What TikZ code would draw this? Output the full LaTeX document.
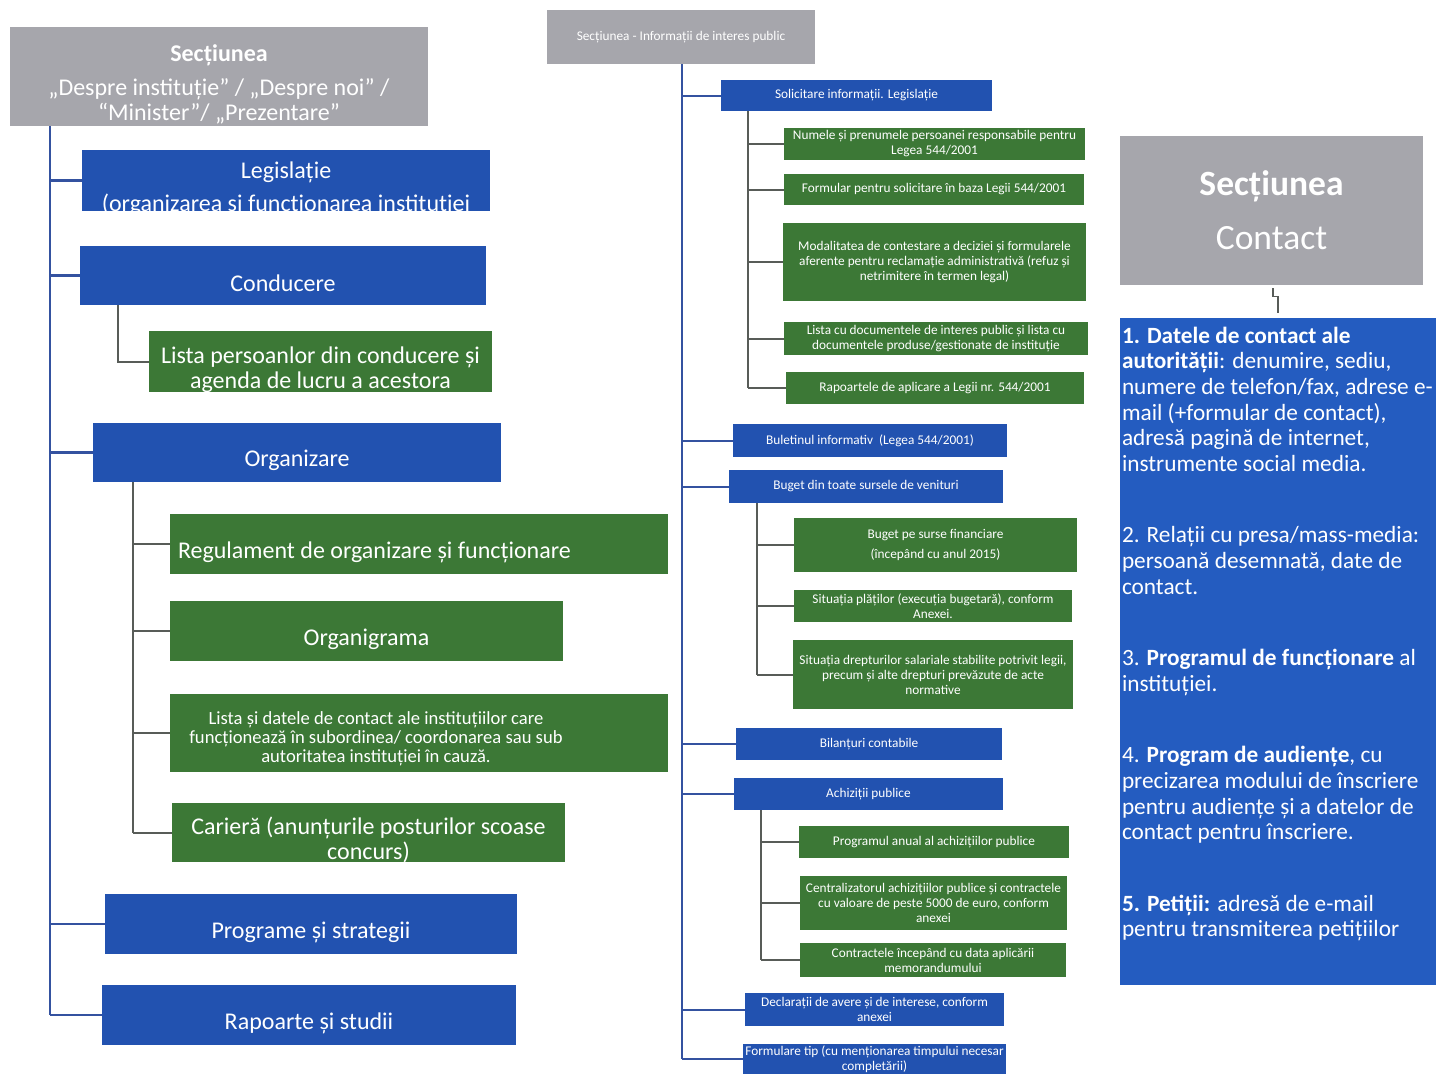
\documentclass[tikz,border=0pt]{standalone}
\usepackage{fontspec}
\setmainfont{Carlito}
\usetikzlibrary{positioning}
\definecolor{headgrey}{RGB}{166,166,172}
\definecolor{secblue}{RGB}{34,82,176}
\definecolor{contactblue}{RGB}{36,92,192}
\definecolor{subgreen}{RGB}{60,120,54}
\definecolor{trunkblue}{RGB}{52,82,160}
\definecolor{branchgrey}{RGB}{88,92,88}
\newcommand{\lowstrut}[1][1.36em]{\rule{0pt}{#1}}

\begin{document}
\begin{tikzpicture}
      [
        x = 1pt, y = -1pt,
        box/.style = {rectangle, text = white, inner sep = 2pt, align = flush center},
        greybox/.style = {box, fill = headgrey},
        bluebox/.style = {box, fill = secblue},
        greenbox/.style = {box, fill = subgreen},
        dims/.style 2 args = {minimum width = #1pt, minimum height = #2pt},
        big/.style = {font = \fontsize{24}{25}\selectfont},
        lowered/.style = {execute at begin node = \lowstrut},
        mid/.style = {font = \fontsize{18.6}{19}\selectfont},
        small/.style = {font = \fontsize{13.3}{15}\selectfont},
        trunk/.style = {draw = trunkblue, line width = 2.5pt},
        branch/.style = {draw = branchgrey, line width = 2pt}
      ]

      \path[fill = white, use as bounding box] (0,0) rectangle (1436,1074);

      \node[greybox, big, dims={418}{99}] (lhead) at (219,76.5)
        {\lowstrut\textbf{Secțiunea}\\[9pt] „Despre instituție” / „Despre noi” /\\ “Minister”/ „Prezentare”};
      \node[bluebox, big, inner ysep = -6pt, dims={408}{61}] (legis) at (286,180.5)
        {\lowstrut[33pt]Legislație\\[8pt] (organizarea și funcționarea instituției};
      \node[bluebox, big, lowered, dims={406}{59}] (cond) at (283,275.5) {Conducere};
      \node[greenbox, big, inner ysep = -2pt, dims={343}{61}] (listacond) at (320.5,361.5)
        {\lowstrut[33pt]Lista persoanlor din conducere și\\ agenda de lucru a acestora};
      \node[bluebox, big, lowered, dims={408}{59}] (org) at (297,452.5) {Organizare};
      \node[greenbox, big, lowered, dims={498}{60}, text width = 482pt, align = flush left] (regul) at (419,544)
        {Regulament de organizare și funcționare};
      \node[greenbox, big, lowered, dims={393}{60}] (organigr) at (366.5,631) {Organigrama};
      \node[greenbox, mid, dims={498}{78}, text width = 490pt, align = flush left] (listainst) at (419,733)
        {\parbox{404pt}{\centering\lowstrut Lista și datele de contact ale instituțiilor care\\
          funcționează în subordinea/ coordonarea sau sub\\ autoritatea instituției în cauză.}};
      \node[greenbox, big, inner ysep = -3pt, dims={393}{59}] (cariera) at (368.5,832.5)
        {\lowstrut[33pt]Carieră (anunțurile posturilor scoase\\ concurs)};
      \node[bluebox, big, lowered, dims={412}{60}] (progr) at (311,924) {Programe și strategii};
      \node[bluebox, big, lowered, dims={414}{60}] (rap) at (309,1015) {Rapoarte și studii};

      \coordinate (ltrunk) at (50,0);
      \coordinate (condsub) at (118,0);
      \coordinate (orgsub) at (133,0);
      \draw[trunk] (lhead.south -| ltrunk) -- (rap.west -| ltrunk);
      \draw[trunk] (legis.west -| ltrunk) -- (legis.west);
      \draw[trunk] (cond.west -| ltrunk) -- (cond.west);
      \draw[trunk] (org.west -| ltrunk) -- (org.west);
      \draw[trunk] (progr.west -| ltrunk) -- (progr.west);
      \draw[trunk] (rap.west -| ltrunk) -- (rap.west);
      \draw[branch] (cond.south -| condsub) |- (listacond.west);
      \draw[branch] (org.south -| orgsub) -- (cariera.west -| orgsub);
      \draw[branch] (regul.west -| orgsub) -- (regul.west);
      \draw[branch] (organigr.west -| orgsub) -- (organigr.west);
      \draw[branch] (listainst.west -| orgsub) -- (listainst.west);
      \draw[branch] (cariera.west -| orgsub) -- (cariera.west);

      \node[greybox, small, dims={268}{54}] (mhead) at (681,37) {Secțiunea - Informații de interes public};
      \node[bluebox, small, dims={271}{31}] (solic) at (856.5,95.5) {Solicitare informații. Legislație};
      \node[greenbox, small, dims={301}{32}] (numele) at (934.5,144)
        {Numele și prenumele persoanei responsabile pentru\\ Legea 544/2001};
      \node[greenbox, small, dims={300}{31}] (formsol) at (934,189.5)
        {Formular pentru solicitare în baza Legii 544/2001};
      \node[greenbox, small, dims={303}{78}] (modal) at (934.5,262)
        {Modalitatea de contestare a deciziei și formularele\\ aferente pentru reclamație administrativă (refuz și\\ netrimitere în termen legal)};
      \node[greenbox, small, dims={304}{33}] (listadoc) at (936,338.5)
        {Lista cu documentele de interes public și lista cu\\ documentele produse/gestionate de instituție};
      \node[greenbox, small, dims={298}{32}] (rapap) at (935,388) {Rapoartele de aplicare a Legii nr. 544/2001};
      \node[bluebox, small, dims={274}{33}] (bulet) at (870,440.5) {Buletinul informativ \ (Legea 544/2001)};
      \node[bluebox, small, dims={274}{33}] (buget) at (866,486.5) {Buget din toate sursele de venituri};
      \node[greenbox, small, dims={283}{54}] (bugsurse) at (935.5,545)
        {Buget pe surse financiare\\[5pt] (începând cu anul 2015)};
      \node[greenbox, small, dims={278}{32}] (sitplati) at (933,606)
        {Situația plăților (execuția bugetară), conform\\ Anexei.};
      \node[greenbox, small, dims={280}{69}] (sitdrept) at (933,674.5)
        {Situația drepturilor salariale stabilite potrivit legii,\\ precum și alte drepturi prevăzute de acte\\ normative};
      \node[bluebox, small, dims={266}{32}] (bilant) at (869,744) {Bilanțuri contabile};
      \node[bluebox, small, dims={269}{32}] (achiz) at (868.5,794) {Achiziții publice};
      \node[greenbox, small, dims={270}{32}] (progach) at (934,842) {Programul anual al achizițiilor publice};
      \node[greenbox, small, dims={267}{54}] (centr) at (933.5,903)
        {Centralizatorul achizițiilor publice și contractele\\ cu valoare de peste 5000 de euro, conform\\ anexei};
      \node[greenbox, small, dims={266}{34}] (contr) at (933,960)
        {Contractele începând cu data aplicării\\ memorandumului};
      \node[bluebox, small, dims={259}{33}] (declar) at (874.5,1009.5)
        {Declarații de avere și de interese, conform\\ anexei};
      \node[bluebox, small, dims={263}{30}] (formtip) at (874.5,1059)
        {Formulare tip (cu menționarea timpului necesar\\ completării)};

      \coordinate (mtrunk) at (682,0);
      \coordinate (solsub) at (748,0);
      \coordinate (bugsub) at (757,0);
      \coordinate (achsub) at (761,0);
      \draw[trunk, line width = 2pt] (mhead.south -| mtrunk) -- (formtip.west -| mtrunk);
      \draw[trunk, line width = 2pt] (solic.west -| mtrunk) -- (solic.west);
      \draw[trunk, line width = 2pt] (bulet.west -| mtrunk) -- (bulet.west);
      \draw[trunk, line width = 2pt] (buget.west -| mtrunk) -- (buget.west);
      \draw[trunk, line width = 2pt] (bilant.west -| mtrunk) -- (bilant.west);
      \draw[trunk, line width = 2pt] (achiz.west -| mtrunk) -- (achiz.west);
      \draw[trunk, line width = 2pt] (declar.west -| mtrunk) -- (declar.west);
      \draw[trunk, line width = 2pt] (formtip.west -| mtrunk) -- (formtip.west);
      \draw[branch] (solic.south -| solsub) -- (rapap.west -| solsub);
      \draw[branch] (numele.west -| solsub) -- (numele.west);
      \draw[branch] (formsol.west -| solsub) -- (formsol.west);
      \draw[branch] (modal.west -| solsub) -- (modal.west);
      \draw[branch] (listadoc.west -| solsub) -- (listadoc.west);
      \draw[branch] (rapap.west -| solsub) -- (rapap.west);
      \draw[branch] (buget.south -| bugsub) -- (sitdrept.west -| bugsub);
      \draw[branch] (bugsurse.west -| bugsub) -- (bugsurse.west);
      \draw[branch] (sitplati.west -| bugsub) -- (sitplati.west);
      \draw[branch] (sitdrept.west -| bugsub) -- (sitdrept.west);
      \draw[branch] (achiz.south -| achsub) -- (contr.west -| achsub);
      \draw[branch] (progach.west -| achsub) -- (progach.west);
      \draw[branch] (centr.west -| achsub) -- (centr.west);
      \draw[branch] (contr.west -| achsub) -- (contr.west);

      \node[greybox, font = \fontsize{35.5}{40}\selectfont, dims={303}{149}] (chead) at (1271.5,210.5)
        {\textbf{Secțiunea}\\[14pt] Contact};
      \node[box, fill = contactblue, dims={316}{667}] (contact) at (1278,651.5) {};
      \node[box, anchor = north west, align = flush left, inner xsep = 2pt, inner ysep = 9pt,
            font = \fontsize{23.3}{25.6}\selectfont] (contacttext) at (contact.north west)
        {\textbf{1. Datele de contact ale}\\
         \textbf{autorității}: denumire, sediu,\\
         numere de telefon/fax, adrese e-\\
         mail (+formular de contact),\\
         adresă pagină de internet,\\
         instrumente social media.\\[46pt]
         2. Relații cu presa/mass-media:\\
         persoană desemnată, date de\\
         contact.\\[46pt]
         3. \textbf{Programul de funcționare} al\\
         instituției.\\[46pt]
         4. \textbf{Program de audiențe}, cu\\
         precizarea modului de înscriere\\
         pentru audiențe și a datelor de\\
         contact pentru înscriere.\\[46pt]
         \textbf{5. Petiții:} adresă de e-mail\\
         pentru transmiterea petițiilor};
      \draw[branch, line width = 1.2pt] ([xshift = 1.5pt, yshift = -3pt]chead.south) -- ++(0,8)
        -| ([yshift = 5pt]contact.north);

\end{tikzpicture}
\end{document}
